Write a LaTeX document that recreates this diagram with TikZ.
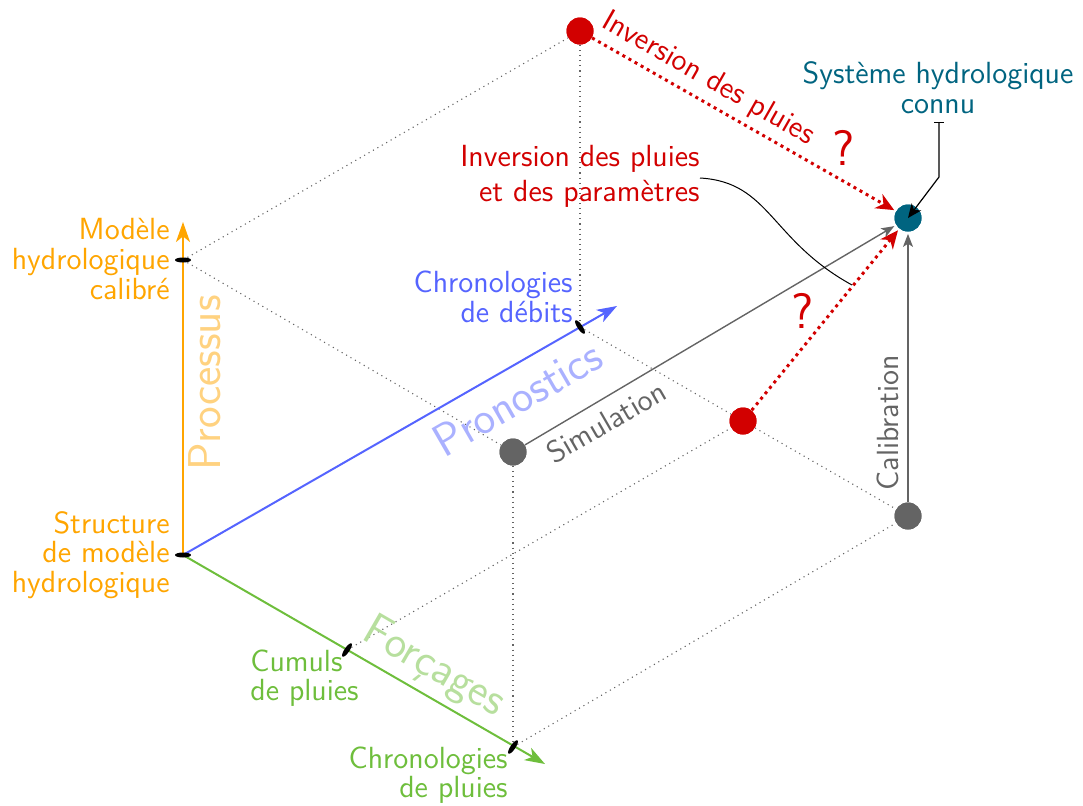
\documentclass[tikz,border=0pt]{standalone}
\usepackage{fontspec}
\usetikzlibrary{arrows.meta,shapes.geometric}
\definecolor{orangeC}{RGB}{255,165,0}
\definecolor{blueC}{RGB}{85,100,255}
\definecolor{greenC}{RGB}{110,190,60}
\definecolor{redC}{RGB}{210,0,0}
\definecolor{tealC}{RGB}{0,100,128}
\definecolor{grayC}{RGB}{100,100,100}
\begin{document}
\begin{tikzpicture}[x=0.5pt,y=-0.5pt,
  font=\sffamily\fontsize{15.3}{14.8}\selectfont,
  lab/.style={inner sep=0pt},
  big/.style={inner sep=0pt, font=\sffamily\fontsize{23}{23}\selectfont},
  qmark/.style={inner sep=0pt, text=redC, font=\sffamily\fontsize{25}{25}\selectfont},
  dotl/.style={grayC, dotted, line width=0.55pt},
  axis/.style={line width=1pt, -{Stealth[length=10pt,width=7pt,inset=2.8pt]}},
  garrow/.style={grayC, line width=0.7pt, shorten >=1pt, -{Stealth[length=6.5pt,width=5pt,inset=1.6pt]}},
  rarrow/.style={redC, line width=1.5pt, dotted, shorten >=1pt, -{Stealth[length=9pt,width=8pt,inset=2.8pt]}},
  tickmark/.style={ellipse, fill=black, inner sep=0pt, minimum width=8pt, minimum height=2.5pt},
  bigdot/.style={circle, inner sep=0pt, minimum size=13.5pt}]
\useasboundingbox (0,0) rectangle (1083,805);

% axis points
\coordinate (cO) at (183,555);
\coordinate (cP) at (183,260);
\coordinate (cQ) at (580,327);
\coordinate (cF1) at (347,650);
\coordinate (cF) at (513,747);
\coordinate (Pend) at (183,222);
\coordinate (Qend) at (617,306);
\coordinate (Fend) at (545,764);

% dots
\node[bigdot, fill=redC] (R1) at (580,31) {};
\node[bigdot, fill=tealC] (T) at (908,218) {};
\node[bigdot, fill=grayC] (G1) at (513,452) {};
\node[bigdot, fill=grayC] (G2) at (908,516) {};
\node[bigdot, fill=redC] (R2) at (743,421) {};

% dotted cube edges
\draw[dotl] (cP) -- (R1);
\draw[dotl] (R1) -- (cQ);
\draw[dotl] (cP) -- (G1);
\draw[dotl] (G1) -- (cF);
\draw[dotl] (cF) -- (G2);
\draw[dotl] (cF1) -- (R2);
\draw[dotl] (cQ) -- (R2);
\draw[dotl] (R2) -- (G2);

% axes
\draw[axis, orangeC] (cO) -- (Pend);
\draw[axis, blueC] (cO) -- (Qend);
\draw[axis, greenC] (cO) -- (Fend);

% ticks
\node[tickmark] (tO) at (cO) {};
\node[tickmark] (tP) at (cP) {};
\node[tickmark, rotate=-56] (tQ) at (cQ) {};
\node[tickmark, rotate=56] (tF1) at (cF1) {};
\node[tickmark, rotate=56] (tF) at (cF) {};

% gray arrows
\draw[garrow] (G2) -- (T);
\draw[garrow] (G1) -- (T);

% red dotted arrows
\draw[rarrow] (R1) -- (T);
\draw[rarrow] (R2) -- (T);

% redraw dots on top
\node[bigdot, fill=redC] at (R1) {};
\node[bigdot, fill=tealC] at (T) {};
\node[bigdot, fill=grayC] at (G1) {};
\node[bigdot, fill=grayC] at (G2) {};
\node[bigdot, fill=redC] at (R2) {};

% connu arrow
\coordinate (cn1) at (939,122);
\coordinate (cn2) at (939,177);
\draw[black, line width=0.6pt, {Bar[width=5pt]}-{Stealth[length=7pt,width=6pt,inset=2pt]}] (cn1) -- (cn2) -- (T.center);

% curve
\coordinate (cv1) at (700,178);
\coordinate (cv4) at (852,285);
\draw[black, line width=0.5pt] (cv1) .. controls (770,182) and (770,240) .. (cv4);

% labels
\node[lab, text=orangeC, align=right, anchor=east] (lP) at (170,259) {Modèle\\hydrologique\\calibré};
\node[lab, text=orangeC, align=right, anchor=east] (lO) at (170,555) {Structure\\de modèle\\hydrologique};
\node[lab, text=blueC, align=right, anchor=east] (lQ) at (573,297) {Chronologies\\de débits};
\node[lab, text=greenC, align=left, anchor=west] (lF1) at (250,678) {Cumuls\\de pluies};
\node[lab, text=greenC, align=right, anchor=east] (lF) at (508,775) {Chronologies\\de pluies};
\node[lab, text=tealC, align=center] (lT) at (938,88) {Système hydrologique\\connu};
\node[lab, text=redC, align=right, anchor=east, font=\sffamily\fontsize{15.3}{17.5}\selectfont] (linv) at (700,176) {Inversion des pluies\\et des paramètres};
\node[lab, text=redC, rotate=-29.7] (linv1) at (708,79) {Inversion des pluies};
\node[qmark] (q1) at (844,148) {?};
\node[qmark] (q2) at (803,311) {?};
\node[lab, text=grayC, rotate=30] (lsim) at (606,422) {Simulation};
\node[lab, text=grayC, rotate=90] (lcal) at (888,423) {Calibration};

\node[big, text=orangeC!50, rotate=90] (proc) at (205,383) {Processus};
\node[big, text=blueC!50, rotate=30] (pron) at (517,398) {Pronostics};
\node[big, text=greenC!50, rotate=-30] (forc) at (434,668) {Forçages};
\end{tikzpicture}
\end{document}
